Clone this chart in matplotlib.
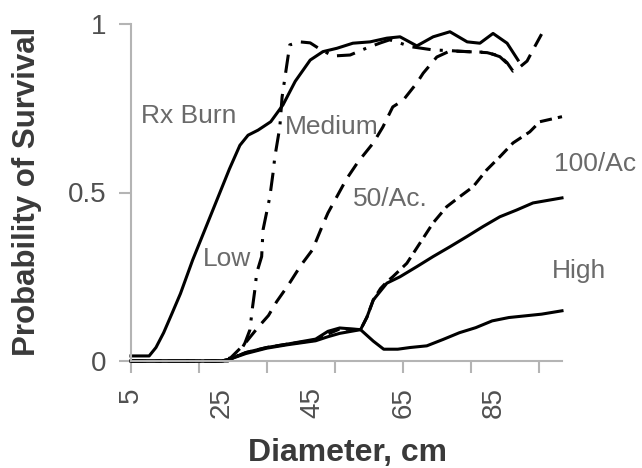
import matplotlib
matplotlib.use("Agg")
import matplotlib.pyplot as plt

# ---- data (diameter cm, probability of survival) ----
rx_x = [5, 9, 10.5, 12.2, 14, 15.9, 18.6, 21.3, 24, 26.7, 29, 30.8, 33, 35.8, 38.5, 41.2, 44.5,
        47.3, 50.4, 53.9, 57.7, 61.4, 64.3, 68, 71.6, 75.3, 79.1, 81.9, 84.8, 87.9, 90.3]
rx_y = [0.015, 0.015, 0.04, 0.084, 0.14, 0.2, 0.3, 0.39, 0.48, 0.57, 0.64, 0.67, 0.685, 0.71,
        0.76, 0.83, 0.893, 0.918, 0.928, 0.943, 0.947, 0.958, 0.962, 0.935, 0.962, 0.977,
        0.947, 0.943, 0.972, 0.943, 0.893]

low_x = [5, 27, 28.5, 30.1, 31.2, 31.8, 32.3, 32.7, 33.8, 34.1, 35.6, 36.3, 36.7, 37.8, 38.3,
         39.4, 40, 42.2, 44.5, 46.7, 49.5, 53.3, 57, 60, 62, 64, 66.5, 71.6, 75.3, 79.1, 83.5,
         86.3, 87.9]
low_y = [0, 0, 0.015, 0.053, 0.092, 0.161, 0.211, 0.261, 0.31, 0.389, 0.487, 0.557, 0.605,
         0.694, 0.783, 0.884, 0.938, 0.947, 0.944, 0.925, 0.905, 0.908, 0.929, 0.944, 0.953,
         0.945, 0.933, 0.923, 0.921, 0.918, 0.916, 0.903, 0.883]

med_x = [5, 25, 27, 30, 33, 35.3, 37.1, 39.7, 42.4, 45, 47.3, 48.4, 52.5, 55, 58.4, 60.5, 62.7,
         65, 68, 69.4, 72.4, 75.3, 79.1, 83.5, 86.3, 87.9, 89.2, 90.5, 92.3, 94, 95.5]
med_y = [0, 0, 0.01, 0.05, 0.1, 0.135, 0.176, 0.226, 0.283, 0.33, 0.405, 0.439, 0.54, 0.59,
         0.647, 0.694, 0.754, 0.774, 0.825, 0.854, 0.902, 0.92, 0.918, 0.915, 0.905, 0.885,
         0.86, 0.87, 0.89, 0.933, 0.97]

a100_x = [5, 25, 26.7, 30.3, 34.9, 39.4, 45.7, 48.4, 51, 55.6, 57, 58.4, 60, 61.4, 62.7, 65.8,
          68.7, 71.6, 74.6, 77.5, 80.4, 83.4, 86.3, 89.2, 92.9, 95.1, 100]
a100_y = [0, 0, 0.005, 0.025, 0.04, 0.05, 0.062, 0.08, 0.095, 0.093, 0.13, 0.181, 0.215, 0.235,
          0.25, 0.29, 0.35, 0.41, 0.458, 0.488, 0.517, 0.567, 0.606, 0.647, 0.68, 0.71, 0.725]

a50_x = [5, 25, 26.7, 30.3, 34.9, 39.4, 45.7, 48.4, 51, 55.6, 57, 58.4, 61.4, 64.3, 68, 71.6,
         75.3, 79, 82.6, 86.3, 90, 93.6, 100]
a50_y = [0, 0, 0.005, 0.022, 0.038, 0.048, 0.06, 0.072, 0.082, 0.093, 0.13, 0.181, 0.231, 0.25,
         0.28, 0.31, 0.339, 0.369, 0.399, 0.428, 0.448, 0.469, 0.484]

high_x = [5, 25, 26.7, 30.3, 34.9, 39.4, 45.7, 48.4, 51, 55.6, 58.4, 60.7, 63.8, 66.5, 70.2,
          73.8, 77.4, 81, 84.6, 88.3, 91.9, 95.5, 100]
high_y = [0, 0, 0.005, 0.025, 0.04, 0.05, 0.065, 0.088, 0.098, 0.093, 0.059, 0.035, 0.035, 0.04,
          0.045, 0.064, 0.084, 0.099, 0.119, 0.129, 0.134, 0.139, 0.149]

labels = ["Rx Burn", "Medium", "Low", "50/Ac.", "100/Ac", "High"]
label_x = [7.3, 38.9, 20.8, 54.0, 98.2, 97.8]
label_y = [0.728, 0.693, 0.302, 0.48, 0.584, 0.267]

y_ticks = [0, 0.5, 1]
y_ticklabels = ["0", "0.5", "1"]
x_tickmarks = [5, 20, 35, 50, 65, 80, 95]
x_labels = [5, 25, 45, 65, 85]

# ---- figure ----
plt.rcParams['font.family'] = ['Liberation Sans', 'DejaVu Sans']
fig = plt.figure(figsize=(6.42, 4.68), dpi=100)
ax = fig.add_axes([131/642, 1-361/468, 431/642, 337/468])

lw = 2.2
ax.plot(rx_x, rx_y, color='black', lw=lw, clip_on=False)
ax.plot(low_x, low_y, color='black', lw=lw, clip_on=False, dashes=(6, 3, 1, 3))
ax.plot(med_x, med_y, color='black', lw=lw, clip_on=False, dashes=(5, 3))
ax.plot(a100_x, a100_y, color='black', lw=lw, clip_on=False, dashes=(4, 2))
ax.plot(a50_x, a50_y, color='black', lw=lw, clip_on=False)
ax.plot(high_x, high_y, color='black', lw=lw, clip_on=False)

for t, x, y in zip(labels, label_x, label_y):
    ax.text(x, y, t, fontsize=19, color='#6a6a6a', ha='left', va='center', clip_on=False)

ax.set_xlim(5, 100)
ax.set_ylim(0, 1)
for s in ['top', 'right']:
    ax.spines[s].set_visible(False)
for s in ['left', 'bottom']:
    ax.spines[s].set_color('#b4b4b4')
    ax.spines[s].set_linewidth(1.5)

ax.set_yticks(y_ticks)
ax.set_yticklabels(y_ticklabels)
ax.tick_params(axis='y', direction='out', length=8.5, width=1.5, color='#b4b4b4',
               labelsize=20, labelcolor='#505050', pad=9)

ax.xaxis.remove_overlapping_locs = False
ax.set_xticks(x_tickmarks)
ax.set_xticklabels([''] * len(x_tickmarks))
ax.tick_params(axis='x', which='major', direction='out', length=8.5, width=1.5, color='#b4b4b4')
ax.set_xticks(x_labels, minor=True)
ax.set_xticklabels([str(v) for v in x_labels], minor=True, rotation=90)
ax.tick_params(axis='x', which='minor', length=0, labelsize=20, labelcolor='#505050', pad=19)

fig.text(27/642, 1-191/468, "Probability of Survival", rotation=90, fontsize=22.5,
         fontweight='bold', color='#3a3a3a', ha='center', va='center')
fig.text(347/642, 1-453/468, "Diameter, cm", fontsize=23, fontweight='bold',
         color='#3a3a3a', ha='center', va='center')

fig.savefig("out.png", dpi=100)
